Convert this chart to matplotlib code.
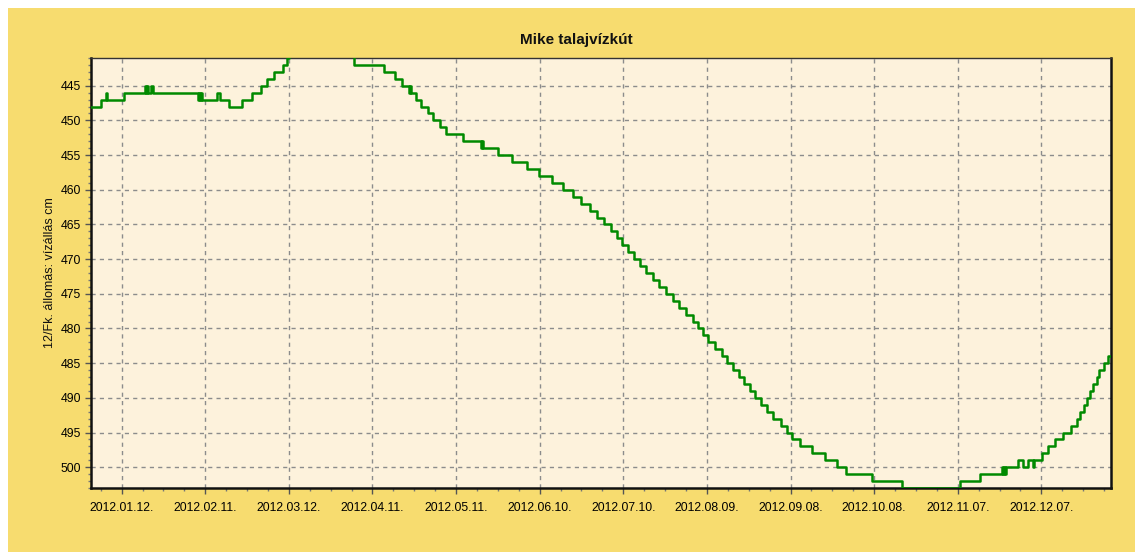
import numpy as np
import pandas as pd
import matplotlib
matplotlib.use("Agg")
import matplotlib.pyplot as plt
import matplotlib.dates as mdates
from matplotlib.patches import Rectangle
from matplotlib.ticker import MultipleLocator, FixedLocator

plt.rcParams['font.family'] = ['Liberation Sans', 'DejaVu Sans']

# water level readings: change points, days after 2012-01-01 and level in cm
days = [0, 3.6, 5.3, 5.8, 11.8, 19.4, 19.8, 20.2, 20.6, 21.4, 22.1,
        38.3, 38.8, 39.2, 39.5, 39.9, 45.1, 46.3, 49.5, 54.1, 57.7,
        60.9, 63.0, 65.7, 69.0, 70.4, 71.0, 73, 76, 80, 85, 90, 93,
        94.5, 105.2, 109.1, 111.5, 114.2, 114.6, 115.0, 116.6, 118.3,
        121.0, 122.8, 125.2, 127.4, 133.6, 139.8, 140.2, 140.6, 146.1,
        151.2, 156.5, 160.9, 165.3, 169.2, 172.8, 175.7, 179.0, 181.4,
        184.1, 186.5, 188.6, 190.4, 192.8, 194.8, 197.0, 199.1, 201.5,
        203.8, 206.3, 208.7, 211.1, 213.5, 215.9, 217.8, 219.7, 221.5,
        223.9, 226.3, 228.1, 230.5, 232.6, 234.4, 236.5, 238.3, 240.4,
        242.7, 244.6, 247.5, 249.6, 251.4, 254.4, 258.6, 263.4, 267.6,
        270.9, 280.1, 290.9, 311.8, 319.0, 326.8, 327.2, 327.6, 328.0,
        328.4, 332.7, 334.3, 336.3, 337.9, 338.2, 341.4, 343.5, 345.9,
        348.7, 351.5, 353.7, 354.9, 356.3, 357.3, 358.5, 359.4, 360.9,
        361.8, 363.5, 365.0, 366]
level = [448, 447, 446, 447, 446, 445, 446, 445, 446, 445, 446,
         447, 446, 447, 446, 447, 446, 447, 448, 447, 446,
         445, 444, 443, 442, 441, 440, 439, 438, 437, 438, 439, 440,
         442, 443, 444, 445, 446, 445, 446, 447, 448,
         449, 450, 451, 452, 453, 454, 453, 454, 455,
         456, 457, 458, 459, 460, 461, 462, 463, 464,
         465, 466, 467, 468, 469, 470, 471, 472, 473,
         474, 475, 476, 477, 478, 479, 480, 481, 482,
         483, 484, 485, 486, 487, 488, 489, 490, 491,
         492, 493, 494, 495, 496, 497, 498, 499, 500,
         501, 502, 503, 502, 501, 500, 501, 500, 501,
         500, 499, 500, 499, 500, 499, 498, 497, 496,
         495, 494, 493, 492, 491, 490, 489, 488, 487,
         486, 485, 484, 484]

start = pd.Timestamp("2012-01-01")
dates = start + pd.to_timedelta(days, unit="D")
tick_dates = pd.date_range("2012-01-12", periods=12, freq="30D")

title = "Mike talajvízkút"
ylabel = "12/Fk. állomás: vízállás cm"

W, H = 1135, 552
fig = plt.figure(figsize=(W / 100, H / 100), dpi=100, facecolor="white")
fig.patches.append(Rectangle((8 / W, 0), 1 - 8 / W, 1 - 8 / H,
                             transform=fig.transFigure, facecolor="#f7dc6f",
                             edgecolor="none", zorder=-10))

ax = fig.add_axes([91 / W, 1 - 488 / H, (1111 - 91) / W, (488 - 58) / H])
ax.set_facecolor("#fdf2dc")

ax.step(dates, level, where="post", color="#008a00", lw=1.8, zorder=3)

ax.set_xlim(start, pd.Timestamp("2013-01-01"))
ax.set_ylim(503, 441)

ax.xaxis.set_major_locator(FixedLocator(mdates.date2num(tick_dates)))
minor = pd.date_range("2012-01-12", periods=12 * 4, freq="180h").append(
    pd.date_range(end="2012-01-12", periods=2, freq="180h"))
ax.xaxis.set_minor_locator(FixedLocator(mdates.date2num(minor)))
ax.xaxis.set_major_formatter(mdates.DateFormatter("%Y.%m.%d."))
ax.yaxis.set_major_locator(MultipleLocator(5))
ax.yaxis.set_minor_locator(MultipleLocator(1))

ax.grid(True, which="major", color="#8c8c8c", lw=1, linestyle=(0, (3, 3)))
ax.tick_params(which="major", direction="out", length=4, width=1,
               labelsize=8.8, color="#555555", pad=3)
ax.tick_params(which="minor", direction="out", length=2, width=1,
               color="#777777")
ax.tick_params(axis="x", which="major", pad=6)

for side in ["left", "bottom", "right"]:
    ax.spines[side].set_linewidth(1.8)
    ax.spines[side].set_color("#111111")
ax.spines["top"].set_linewidth(1.0)
ax.spines["top"].set_color("#333333")

fig.text(576 / W, 1 - 40 / H, title, ha="center", va="center",
         fontsize=11, fontweight="bold", color="#111111")
fig.text(50 / W, 1 - 273 / H, ylabel, ha="center", va="center",
         rotation=90, fontsize=9, color="#111111")

fig.savefig("out.png", dpi=100, facecolor=fig.get_facecolor())
